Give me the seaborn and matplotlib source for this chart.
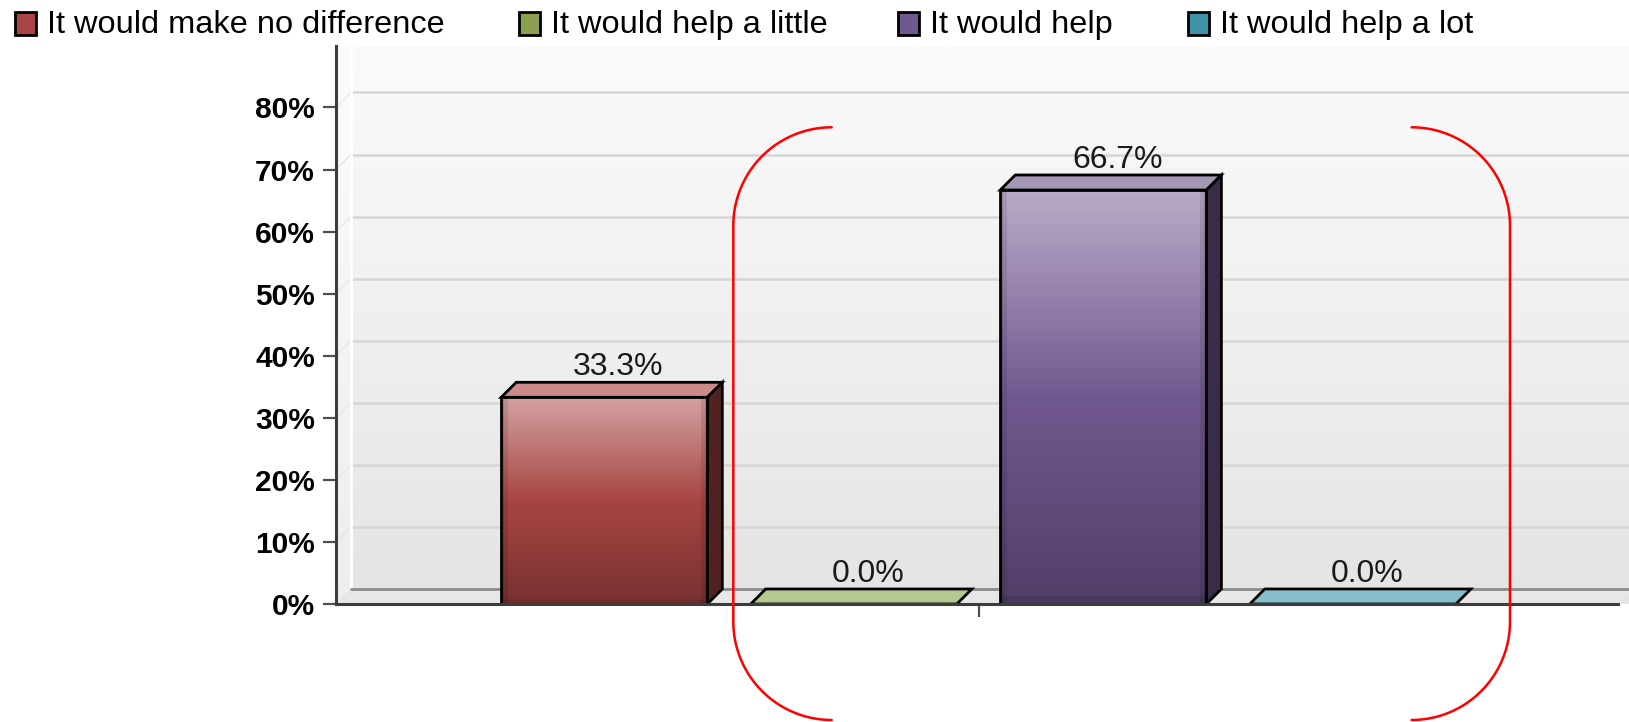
import numpy as np
import pandas as pd
import seaborn as sns
import matplotlib.pyplot as plt
from matplotlib.colors import LinearSegmentedColormap, to_rgb
from matplotlib.patches import Polygon, Rectangle
from matplotlib.lines import Line2D

# Survey answers and share of responses (%)
responses = ["It would make no difference", "It would help a little",
             "It would help", "It would help a lot"]
percent = [33.3, 0.0, 66.7, 0.0]
y_ticks = [0, 10, 20, 30, 40, 50, 60, 70, 80]

# Colours: front face, top face, side face
colors = ["#a74543", "#8aa050", "#725890", "#3f93a8"]
top_colors = ["#cc8a88", "#b5c88f", "#a597b6", "#86bfcb"]
side_colors = ["#522121", "#4a5a2a", "#392c48", "#1f4f5a"]

df = pd.DataFrame({"question": [""] * len(responses),
                   "response": responses,
                   "percent": percent})

W, H = 1629, 722
DEPTH = 15  # fake 3d depth in pixels
AX_L, AX_R, AX_T, AX_B = 336, 1618, 46, 604  # axes box in pixels
EDGE = 2.0

sns.set_style("white")
plt.rcParams["font.family"] = ["Liberation Sans", "DejaVu Sans"]

fig = plt.figure(figsize=(W / 100, H / 100), dpi=100)
ax = fig.add_axes([AX_L / W, 1 - AX_B / H, (AX_R - AX_L) / W, (AX_B - AX_T) / H])

sns.barplot(data=df, x="question", y="percent", hue="response",
            hue_order=responses, palette=colors, width=0.8, gap=0.174,
            edgecolor="black", linewidth=EDGE, legend=False, ax=ax)
bars = sorted(ax.patches, key=lambda p: p.get_x())

x0, x1 = -0.515, 0.5125
y0, y1 = 0, 89.9
ddx = DEPTH * (x1 - x0) / (AX_R - AX_L)
ddy = DEPTH * (y1 - y0) / (AX_B - AX_T)

# background wall gradient
grad = np.linspace(0, 1, 256).reshape(-1, 1)
bg = LinearSegmentedColormap.from_list("bg", ["#fbfbfb", "#e4e4e4"])
ax.imshow(grad, cmap=bg, aspect="auto", extent=[x0, x1 + ddx, 0, y1],
          origin="upper", zorder=0, clip_on=False)

# left side wall and floor
ax.add_patch(Polygon([(x0, 0), (x0 + ddx, ddy), (x0 + ddx, y1), (x0, y1)],
                     closed=True, fc=(1, 1, 1, 0.35), ec="none", zorder=0.6))
ax.add_patch(Polygon([(x0, 0), (x1, 0), (x1 + ddx, ddy), (x0 + ddx, ddy)],
                     closed=True, fc="#e7e7e7", ec="none", zorder=0.6, clip_on=False))
ax.plot([x0 + ddx, x0 + ddx], [ddy, y1], color="white", lw=2, zorder=0.7)
ax.plot([x0 + ddx, x1 + ddx], [ddy, ddy], color="#8c8c8c", lw=2,
        zorder=0.7, clip_on=False)

# gridlines on the back wall
for t in y_ticks[1:]:
    ax.plot([x0 + ddx, x1 + ddx], [t + ddy, t + ddy], color="#d6d6d6",
            lw=1.8, zorder=0.5, clip_on=False)
    ax.plot([x0, x0 + ddx], [t, t + ddy], color="#dadada", lw=1, zorder=0.5)

# 3d look for the bars
px_per_x = (AX_R - AX_L) / (x1 - x0)
for bar, c, tc, sc, val in zip(bars, colors, top_colors, side_colors, percent):
    bx, bw, bh = bar.get_x(), bar.get_width(), bar.get_height()
    ax.add_patch(Polygon([(bx, bh), (bx + ddx, bh + ddy),
                          (bx + bw + ddx, bh + ddy), (bx + bw, bh)],
                         closed=True, fc=tc, ec="black", lw=EDGE, zorder=2.2))
    if bh > 0:
        ax.add_patch(Polygon([(bx + bw, 0), (bx + bw + ddx, ddy),
                              (bx + bw + ddx, bh + ddy), (bx + bw, bh)],
                             closed=True, fc=sc, ec="black", lw=EDGE, zorder=2.2))
        base = np.array(to_rgb(c))
        cm = LinearSegmentedColormap.from_list(
            "g", [(0, base * 0.5 + 0.5), (0.5, base), (1, base * 0.72)])
        col = cm(np.linspace(0, 1, 300))[:, :3]
        m = int(bw * px_per_x)
        d = np.minimum(np.arange(m), m - 1 - np.arange(m))
        shade = np.where(d < 3, 0.78, np.where(d < 7, 0.9, 1.0))
        img = col[:, None, :] * shade[None, :, None]
        img[-6:] *= 0.9
        im = ax.imshow(img, extent=[bx, bx + bw, 0, bh], aspect="auto",
                       origin="upper", zorder=2.5)
        im.set_clip_path(bar)
        bar.set_facecolor("none")
    bar.set_zorder(3)
    ax.annotate(f"{val:.1f}%", (bx + bw / 2, bh + ddy), xytext=(14, 7),
                textcoords="offset pixels", ha="center", va="baseline",
                fontsize=23, color="#1a1a1a", zorder=5)

ax.set_xlim(x0, x1)
ax.set_ylim(y0, y1)
ax.set_xlabel("")
ax.set_ylabel("")
ax.set_xticks([0], labels=[""])
ax.set_yticks(y_ticks, labels=[f"{t}%" for t in y_ticks],
              fontsize=21.5, fontweight="bold")
ax.tick_params(axis="y", left=True, length=9.4, width=1.6, color="#505050",
               pad=5.8, labelcolor="black")
ax.tick_params(axis="x", bottom=True, length=9.4, width=1.6, color="#505050")

for s in ["top", "right"]:
    ax.spines[s].set_visible(False)
for s in ["left", "bottom"]:
    ax.spines[s].set_color("#3c3c3c")
    ax.spines[s].set_linewidth(2.2)
    ax.spines[s].set_zorder(4)

# legend drawn across the top
legend_x = [15, 519, 898, 1188]
for lx, c, lab in zip(legend_x, colors, responses):
    fig.add_artist(Rectangle((lx / W, 1 - 34.5 / H), 21 / W, 22 / H,
                             transform=fig.transFigure, fc=c, ec="black", lw=2))
    fig.text((lx + 32) / W, 1 - 33 / H, lab, fontsize=23.4, va="baseline",
             ha="left", color="black")

# red bracket annotations
r = 98.4
def bracket(cx, top, bottom, side):
    a1 = np.radians(np.linspace(-90, -180, 40))
    a2 = np.radians(np.linspace(180, 90, 40))
    xs = np.concatenate([cx + r * np.cos(a1), cx + r * np.cos(a2)])
    ys = np.concatenate([top + r + r * np.sin(a1), bottom - r + r * np.sin(a2)])
    xs = cx + side * (xs - cx)
    fig.add_artist(Line2D(xs / W, 1 - ys / H, transform=fig.transFigure,
                          color="#ff0000", lw=1.8))

bracket(831.7, 127.3, 720, 1)
bracket(1411.6, 127.3, 720, -1)

fig.savefig("out.png", dpi=100)
